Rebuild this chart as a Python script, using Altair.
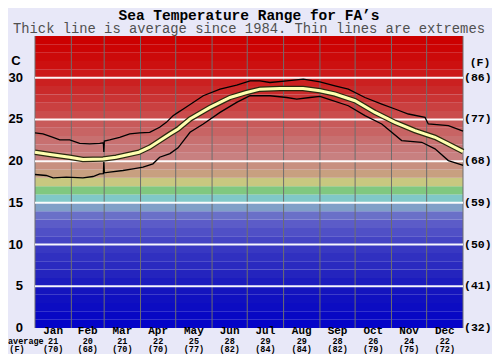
import altair as alt
import pandas as pd

# ---------------- data ----------------
months = ["Jan", "Feb", "Mar", "Apr", "May", "Jun", "Jul", "Aug", "Sep", "Oct", "Nov", "Dec"]
month_avg_c = ["21", "20", "21", "22", "25", "28", "29", "29", "28", "26", "24", "22"]
month_avg_f = ["(70)", "(68)", "(70)", "(70)", "(77)", "(82)", "(84)", "(84)", "(82)", "(79)", "(75)", "(72)"]
month_mid_day = [15.5, 45, 74.5, 105, 135.5, 166, 196.5, 227.5, 258, 288.5, 319, 349.5]
month_edge_day = [0, 31, 59, 90, 120, 151, 181, 212, 243, 273, 304, 334, 365]

avg_day = [0, 12.8, 29.6, 40.9, 58, 69.1, 88.7, 97.8, 115.1, 122, 132.2, 149.2, 166.3,
           180.5, 191.9, 208.9, 228.6, 243, 255.8, 272.9, 289.9, 307, 324, 341.1, 352.2, 365]
avg_val = [21.07, 20.8, 20.47, 20.19, 20.27, 20.47, 21.07, 21.67, 23.26, 23.86, 25.05, 26.44, 27.63,
           28.23, 28.63, 28.71, 28.71, 28.43, 28.04, 27.24, 25.84, 24.65, 23.66, 22.86, 22.07, 21.15]

max_day = [0, 6.8, 15.4, 21.1, 29.6, 38.1, 46.6, 55.2, 58.3, 58.7, 59.1, 63.7, 72.2, 80.8, 89.3,
           97.8, 106.3, 112, 117.7, 122, 126.5, 143.5, 157.8, 172, 183.4, 191.9, 200.4, 214.7,
           228.8, 243, 255.8, 267.2, 281.4, 295.7, 307, 318.4, 332.6, 335.4, 352.5, 363.9, 365]
max_val = [23.38, 23.26, 22.86, 22.54, 22.54, 22.14, 22.06, 22.14, 22.2, 21.1, 22.4, 22.54, 22.86,
           23.26, 23.38, 23.46, 24.06, 24.65, 25.45, 25.84, 26.25, 27.84, 28.63, 29.11, 29.63,
           29.63, 29.43, 29.63, 29.83, 29.51, 29.03, 28.63, 27.63, 26.84, 26.25, 25.65, 25.25,
           24.46, 24.25, 23.66, 23.6]

min_day = [0, 9.6, 15.4, 26.7, 40.9, 49.5, 55.2, 58.3, 58.7, 59.1, 63.7, 75, 83.6, 92.1, 100.6,
           106.3, 115.1, 122, 132.2, 143.5, 157.8, 172, 183.4, 200.4, 214.7, 223.2, 234.5, 243,
           250.1, 267.2, 281.4, 295.7, 304.2, 312.7, 329.8, 341.1, 352.5, 363.9, 365]
min_val = [18.4, 18.28, 18.0, 18.08, 18.0, 18.16, 18.48, 18.5, 19.9, 18.6, 18.68, 18.88, 19.08,
           19.28, 19.68, 20.47, 20.9, 21.6, 23.46, 24.46, 25.84, 27.04, 27.84, 27.84, 27.63,
           27.44, 27.63, 27.76, 27.44, 26.64, 25.45, 24.46, 23.46, 22.46, 22.26, 21.47, 20.07,
           19.56, 19.5]

band_low = list(range(35))
band_color = ["#0404c8", "#0808c4", "#0c0cc2", "#1010c0", "#1414be", "#1c1cbe", "#2424be",
              "#2a2ac0", "#3030c0", "#3838c2", "#4444c4", "#5050c6", "#5c5cc8", "#6a70c8",
              "#80a0c8", "#80c8c8", "#80c880", "#c8c880", "#c8a080", "#c89080", "#c88080",
              "#c87878", "#c87070", "#c86464", "#c85a5a", "#ca4c4c", "#ca4040", "#ca3434",
              "#ca2a2a", "#cb2020", "#cc1818", "#cc1010", "#cc0a0a", "#cc0404", "#cc0000"]

grid_c = [5, 10, 15, 20, 25, 30]
tick_c = [0, 5, 10, 15, 20, 25, 30]
tick_c_labels = ["0", "5", "10", "15", "20", "25", "30"]
tick_f_labels = ["(32)", "(41)", "(50)", "(59)", "(68)", "(77)", "(86)"]

title_text = "Sea Temperature Range for FA\u2019s"
subtitle_text = "Thick line is average since 1984. Thin lines are extremes"

# ---------------- chart ----------------
W, H = 428, 292
xs = alt.Scale(domain=[0, 365], nice=False, zero=False)
ys = alt.Scale(domain=[0, 35], nice=False, zero=True)
MONO = "Liberation Mono"
SANS = "Liberation Sans"

bands = pd.DataFrame({"lo": band_low, "hi": [v + 1 for v in band_low], "col": band_color})
bg = alt.Chart(bands).mark_rect().encode(
    x=alt.value(0), x2=alt.value(W),
    y=alt.Y("lo:Q", scale=ys, axis=None), y2="hi:Q",
    color=alt.Color("col:N", scale=None),
)

vrules = alt.Chart(pd.DataFrame({"d": month_edge_day})).mark_rule(
    color="#6e6e6e", strokeWidth=1
).encode(x=alt.X("d:Q", scale=xs, axis=None))

hrules = alt.Chart(pd.DataFrame({"c": grid_c})).mark_rule(
    color="white", strokeWidth=2, opacity=0.95
).encode(y=alt.Y("c:Q", scale=ys, axis=None))

def line_df(d, v):
    return pd.DataFrame({"day": d, "val": v})

enc = dict(x=alt.X("day:Q", scale=xs, axis=None), y=alt.Y("val:Q", scale=ys, axis=None))
max_line = alt.Chart(line_df(max_day, max_val)).mark_line(color="black", strokeWidth=1.3).encode(**enc)
min_line = alt.Chart(line_df(min_day, min_val)).mark_line(color="black", strokeWidth=1.3).encode(**enc)
avg_out = alt.Chart(line_df(avg_day, avg_val)).mark_line(color="#2a2a10", strokeWidth=5.5).encode(**enc)
avg_in = alt.Chart(line_df(avg_day, avg_val)).mark_line(color="#ffffb0", strokeWidth=3).encode(**enc)

ticks_df = pd.DataFrame({"c": tick_c, "lc": tick_c_labels, "lf": tick_f_labels})
left_lab = alt.Chart(ticks_df).mark_text(
    align="right", baseline="middle", font=SANS, fontWeight="bold", fontSize=13, color="black"
).encode(y=alt.Y("c:Q", scale=ys, axis=None), x=alt.value(-12), text="lc:N")
right_lab = alt.Chart(ticks_df).mark_text(
    align="left", baseline="middle", font=MONO, fontWeight="bold", fontSize=11.5, color="black"
).encode(y=alt.Y("c:Q", scale=ys, axis=None), x=alt.value(429), text="lf:N")

unit_c = alt.Chart(pd.DataFrame({"t": ["C"]})).mark_text(
    align="center", baseline="middle", font=SANS, fontWeight="bold", fontSize=13, color="black"
).encode(text="t:N", x=alt.value(-19), y=alt.value(25))
unit_f = alt.Chart(pd.DataFrame({"t": ["(F)"]})).mark_text(
    align="center", baseline="middle", font=MONO, fontWeight="bold", fontSize=11.5, color="black"
).encode(text="t:N", x=alt.value(445), y=alt.value(27))

mdf = pd.DataFrame({"day": month_mid_day, "m": months, "c": month_avg_c, "f": month_avg_f})
mx = alt.X("day:Q", scale=xs, axis=None)
m_name = alt.Chart(mdf).mark_text(
    baseline="middle", font=MONO, fontWeight="bold", fontSize=11, color="black"
).encode(x=mx, y=alt.value(295), text="m:N")
m_c = alt.Chart(mdf).mark_text(
    baseline="middle", font=MONO, fontWeight="bold", fontSize=8.5, color="black"
).encode(x=mx, y=alt.value(304.5), text="c:N")
m_f = alt.Chart(mdf).mark_text(
    baseline="middle", font=MONO, fontWeight="bold", fontSize=8.5, color="black"
).encode(x=mx, y=alt.value(313), text="f:N")

avg_lab = alt.Chart(pd.DataFrame({"t": ["average"]})).mark_text(
    align="left", baseline="middle", font=MONO, fontWeight="bold", fontSize=8.5, color="black"
).encode(text="t:N", x=alt.value(-27), y=alt.value(304.5))
f_lab = alt.Chart(pd.DataFrame({"t": ["(F)"]})).mark_text(
    align="center", baseline="middle", font=MONO, fontWeight="bold", fontSize=8.5, color="black"
).encode(text="t:N", x=alt.value(-18), y=alt.value(313))

title = alt.Chart(pd.DataFrame({"t": [title_text]})).mark_text(
    align="center", baseline="alphabetic", font=MONO, fontWeight="bold", fontSize=14.5, color="black"
).encode(text="t:N", x=alt.value(W / 2), y=alt.value(-16))
subtitle = alt.Chart(pd.DataFrame({"t": [subtitle_text]})).mark_text(
    align="center", baseline="alphabetic", font=MONO, fontSize=13.8, color="#505050"
).encode(text="t:N", x=alt.value(W / 2), y=alt.value(-3))

chart = alt.layer(
    bg, vrules, hrules, max_line, min_line, avg_out, avg_in,
    left_lab, right_lab, unit_c, unit_f, m_name, m_c, m_f, avg_lab, f_lab, title, subtitle
).properties(
    width=W, height=H,
    autosize=alt.AutoSizeParams(type="none"),
    padding={"left": 27, "top": 28, "right": 29, "bottom": 26},
    background="#e8e8f8",
).configure_view(stroke=None)

chart.save("out.html", embed_options={"renderer": "svg", "actions": False})
